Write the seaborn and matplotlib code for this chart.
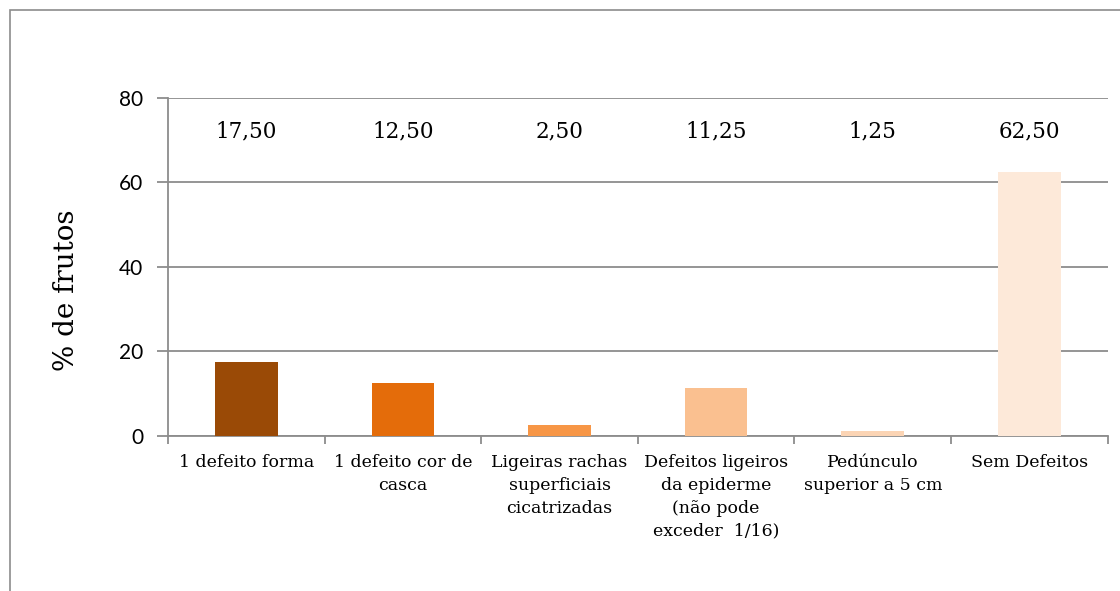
import matplotlib
matplotlib.use("Agg")
import matplotlib.pyplot as plt
from matplotlib.patches import Rectangle
from matplotlib.ticker import FixedLocator
import seaborn as sns
import pandas as pd

# data
categories = [
    "1 defeito forma",
    "1 defeito cor de\ncasca",
    "Ligeiras rachas\nsuperficiais\ncicatrizadas",
    "Defeitos ligeiros\nda epiderme\n(não pode\nexceder  1/16)",
    "Pedúnculo\nsuperior a 5 cm",
    "Sem Defeitos",
]
percent = [17.50, 12.50, 2.50, 11.25, 1.25, 62.50]
bar_colors = ["#9A4A06", "#E46C0A", "#F79646", "#FAC090", "#FBD4B4", "#FDE9D9"]
y_ticks = [0, 20, 40, 60, 80]

GRAY = "#8c8c8c"
SERIF = ["DejaVu Serif"]

sns.set_style("white")
plt.rcParams["font.family"] = ["DejaVu Sans"]
plt.rcParams["text.color"] = "black"
plt.rcParams["xtick.color"] = "black"
plt.rcParams["ytick.color"] = "black"
plt.rcParams["axes.labelcolor"] = "black"

df = pd.DataFrame({"categoria": categories, "pct": percent})

fig = plt.figure(figsize=(11.2, 5.91), dpi=100)
ax = fig.add_axes([0.15, 0.2623, 0.839, 0.5719])

sns.barplot(data=df, x="categoria", y="pct", hue="categoria",
            palette=bar_colors, width=0.4, legend=False, ax=ax,
            saturation=1, linewidth=0, zorder=3)

ax.set_xlim(-0.5, len(categories) - 0.5)
ax.set_ylim(0, 80)
ax.set_yticks(y_ticks)
ax.set_yticklabels([str(t) for t in y_ticks], fontsize=15, family="Lato")
ax.yaxis.grid(True, color=GRAY, lw=1.3, zorder=0)
ax.set_axisbelow(True)

ax.set_xticks(range(len(categories)))
ax.set_xticklabels(categories, fontsize=12.5, family=SERIF, linespacing=1.45)
ax.xaxis.set_minor_locator(FixedLocator([i - 0.5 for i in range(len(categories) + 1)]))
ax.tick_params(axis="x", which="major", length=0, pad=13)
ax.tick_params(axis="x", which="minor", length=6, width=1.3, color=GRAY, direction="out")
ax.tick_params(axis="y", length=8, width=1.3, color=GRAY, direction="out", pad=10)
ax.tick_params(bottom=True, left=True, which="both")

for side in ["top", "right"]:
    ax.spines[side].set_visible(False)
for side in ["left", "bottom"]:
    ax.spines[side].set_color(GRAY)
    ax.spines[side].set_linewidth(1.3)

ax.set_xlabel("")
ax.set_ylabel("% de frutos", fontsize=20, family=SERIF)
ax.yaxis.set_label_coords(-0.094, 0.43)

for i, v in enumerate(percent):
    ax.text(i, 72, f"{v:.2f}".replace(".", ","), ha="center", va="center",
            fontsize=15.5, family=SERIF)

fig.add_artist(Rectangle((10 / 1120, -0.2), 1.2, 1.2 - 10 / 591, transform=fig.transFigure,
                         fill=False, edgecolor=GRAY, lw=1.2))

fig.savefig("out.png", dpi=100)
